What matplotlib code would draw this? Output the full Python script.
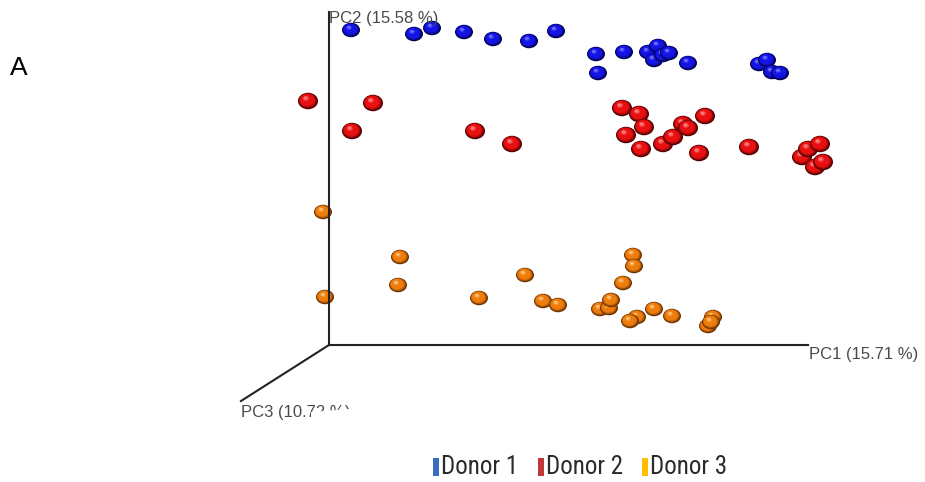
import numpy as np
import matplotlib.pyplot as plt
from matplotlib import font_manager
from matplotlib.patches import Ellipse, Rectangle, Polygon
from matplotlib.colors import to_rgb

# PCoA scores (PC1, PC2) for each donor's samples
d1_pc1 = [0.022, 0.085, 0.103, 0.135, 0.164, 0.200, 0.227, 0.267, 0.269, 0.295,
          0.319, 0.329, 0.325, 0.334, 0.340, 0.359, 0.430, 0.438, 0.443, 0.451]
d1_pc2 = [0.315, 0.311, 0.317, 0.313, 0.306, 0.304, 0.314, 0.291, 0.272, 0.293,
          0.293, 0.299, 0.285, 0.290, 0.292, 0.282, 0.281, 0.285, 0.273, 0.272]

d2_pc1 = [-0.021, 0.044, 0.023, 0.146, 0.183, 0.293, 0.310, 0.315, 0.297, 0.312, 0.334,
          0.344, 0.354, 0.359, 0.376, 0.370, 0.420, 0.473, 0.479, 0.491, 0.486, 0.494]
d2_pc2 = [0.244, 0.242, 0.214, 0.214, 0.201, 0.237, 0.231, 0.218, 0.210, 0.196, 0.201,
          0.208, 0.221, 0.217, 0.229, 0.192, 0.198, 0.188, 0.196, 0.201, 0.178, 0.183]

d3_pc1 = [-0.006, 0.071, 0.069, -0.004, 0.150, 0.196, 0.214, 0.229, 0.304, 0.305, 0.294,
          0.271, 0.280, 0.282, 0.308, 0.301, 0.325, 0.343, 0.384, 0.379, 0.382]
d3_pc2 = [0.133, 0.088, 0.060, 0.048, 0.047, 0.070, 0.044, 0.040, 0.090, 0.079, 0.062,
          0.036, 0.037, 0.045, 0.028, 0.024, 0.036, 0.029, 0.028, 0.019, 0.023]

axis_labels = ["PC1 (15.71 %)", "PC2 (15.58 %)", "PC3 (10.72 %)"]
donors = ["Donor 1", "Donor 2", "Donor 3"]


def sphere(ax, x, y, w, h, base, dark, light):
    base, dark, light = np.array(to_rgb(base)), np.array(to_rgb(dark)), np.array(to_rgb(light))
    n = 9
    for i in range(n):
        t = i / (n - 1)
        if t < 0.3:
            c = dark + (base - dark) * (t / 0.3)
        elif t < 0.75:
            c = base
        else:
            c = base + (light - base) * ((t - 0.75) / 0.25) * 0.8
        s = 1 - 0.8 * t
        ax.add_patch(Ellipse((x - 0.12 * w * t, y + 0.18 * h * t), w * s, h * s,
                             facecolor=c, edgecolor='none', clip_on=False))


fig = plt.figure(figsize=(9.25, 4.82), dpi=100)
fig.patch.set_facecolor('white')

ax = fig.add_axes([329 / 925, 137 / 482, 479 / 925, 333 / 482])
ax.set_xlim(0, 0.479)
ax.set_ylim(0, 0.333)
ax.set_xticks([])
ax.set_yticks([])
for side in ['top', 'right']:
    ax.spines[side].set_visible(False)
for side in ['left', 'bottom']:
    ax.spines[side].set_color('#222222')
    ax.spines[side].set_linewidth(1.5)
ax.patch.set_alpha(0)

# third axis drawn in oblique projection
ax.plot([0, -0.088], [0, -0.056], color='#222222', lw=1.5, clip_on=False)

for x, y in zip(d1_pc1, d1_pc2):
    sphere(ax, x, y, 0.018, 0.0145, '#1414e6', '#00004a', '#8080ff')
for x, y in zip(d2_pc1, d2_pc2):
    sphere(ax, x, y, 0.020, 0.0165, '#e81010', '#500000', '#ff9090')
for x, y in zip(d3_pc1, d3_pc2):
    sphere(ax, x, y, 0.018, 0.0145, '#ee7d0c', '#6a3000', '#ffd090')

lab = dict(fontsize=12, color='#4a4a4a', family='Liberation Sans')
fig.text(809 / 925, 1 - 355 / 482, axis_labels[0], va='center', ha='left', **lab)
fig.text(329 / 925, 1 - 19 / 482, axis_labels[1], va='center', ha='left', **lab)
fig.text(241 / 925, 1 - 413 / 482, axis_labels[2], va='center', ha='left', **lab)
# the tail of the PC3 label is partly covered
fig.patches.append(Polygon([[311 / 925, 1 - 412 / 482], [362 / 925, 1 - 408 / 482],
                            [362 / 925, 1 - 428 / 482], [311 / 925, 1 - 428 / 482]],
                           closed=True, transform=fig.transFigure, facecolor='white',
                           edgecolor='none', zorder=5))

fig.text(10 / 925, 1 - 68 / 482, "A", fontsize=19, va='center', ha='left',
         color='black', family='Liberation Sans')

# legend, in a narrow face when one is available
names = {f.name for f in font_manager.fontManager.ttflist}
narrow = [n for n in ['Liberation Sans Narrow', 'Roboto Condensed', 'Open Sans Condensed']
          if n in names]
leg_font = dict(family=narrow[0], fontsize=18) if narrow else dict(family='Roboto', fontsize=16)

leg_colors = ['#3a6cc0', '#c03838', '#ffbf00']
leg_x = [433, 538, 642]
for x0, c, name in zip(leg_x, leg_colors, donors):
    fig.patches.append(Rectangle((x0 / 925, 1 - 476 / 482), 6 / 925, 18 / 482,
                                 transform=fig.transFigure, facecolor=c,
                                 edgecolor='none'))
    fig.text((x0 + 8) / 925, 1 - 467 / 482, name, va='center', ha='left',
             color='#2a2a2a', **leg_font)

fig.savefig('out.png', dpi=100)
